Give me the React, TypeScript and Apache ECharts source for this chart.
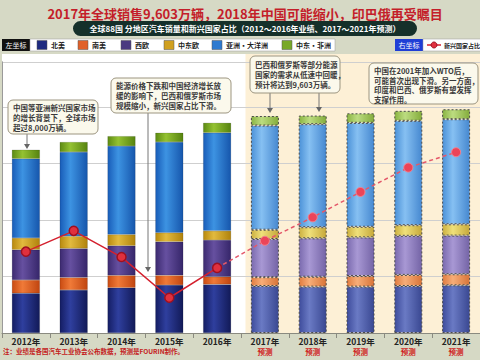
import React, { useEffect, useRef } from "react";
import * as echarts from "echarts";

const categories = ["2012年", "2013年", "2014年", "2015年", "2016年", "2017年", "2018年", "2019年", "2020年", "2021年"];
const forecastStart = 5;
const seriesNames = ["北美", "南美", "西欧", "中东欧", "亚洲・大洋洲", "中东・非洲"];
const northAmerica = [1760, 1900, 2000, 2120, 2150, 2080, 2050, 2050, 2080, 2110];
const southAmerica = [590, 560, 550, 430, 340, 390, 440, 470, 490, 490];
const westernEurope = [1330, 1280, 1310, 1490, 1620, 1690, 1700, 1710, 1730, 1710];
const centralEastEurope = [520, 540, 500, 400, 410, 410, 490, 470, 470, 500];
const asiaOceania = [3510, 3730, 3910, 4010, 4340, 4610, 4560, 4600, 4620, 4650];
const middleEastAfrica = [400, 440, 440, 410, 440, 420, 380, 420, 440, 440];
const emergingShare = [39.0, 41.3, 38.4, 33.9, 37.2, 40.2, 42.8, 45.6, 48.3, 50.0];
const leftTicks = { min: 0, max: 12000, interval: 2500 };
const rightTicks = { min: 30, max: 60 };

const actualColors = [
  ["#141d63", "#2f3f9e", "#121a58"],
  ["#c94b12", "#f07a38", "#c04510"],
  ["#3c2a70", "#6650a0", "#36266a"],
  ["#b8890f", "#e2ba3e", "#b0820c"],
  ["#185cb8", "#3d93e2", "#1656ac"],
  ["#5c8a12", "#94c232", "#56830f"],
];
const forecastColors = [
  ["#3e4c9c", "#6a7ac4", "#3a4892"],
  ["#e07c40", "#f7ad78", "#d87438"],
  ["#7a6aae", "#a898d4", "#7464a6"],
  ["#ccb040", "#efe07a", "#c6a83a"],
  ["#4c92d8", "#86c0f2", "#4688d0"],
  ["#8ab442", "#bcdc80", "#84ac3c"],
];
const legendColors = ["#1e2a80", "#e0602a", "#4a3a80", "#d0a020", "#2e7ad0", "#78a828"];

function grad(c: string[]) {
  return new echarts.graphic.LinearGradient(0, 0, 1, 0, [
    { offset: 0, color: c[0] },
    { offset: 0.38, color: c[1] },
    { offset: 1, color: c[2] },
  ]);
}

const values = [northAmerica, southAmerica, westernEurope, centralEastEurope, asiaOceania, middleEastAfrica];

function noteBox(x: number, y: number, w: number, h: number, text: string, fs: number, lh: number) {
  return [
    {
      type: "rect",
      shape: { x, y, width: w, height: h, r: 5 },
      style: { fill: "#fbf9ec", stroke: "#9c9580", lineWidth: 1 },
      z: 10,
    },
    {
      type: "text",
      x: x + 5,
      y: y + 3,
      style: {
        text,
        fontSize: fs,
        lineHeight: lh,
        fontWeight: "bold",
        fill: "#3a3a3a",
        fontFamily: "Noto Sans CJK SC",
      },
      z: 11,
    },
  ];
}

function arrow(x: number, y1: number, y2: number) {
  return [
    { type: "line", shape: { x1: x, y1, x2: x, y2: y2 - 4 }, style: { stroke: "#777", lineWidth: 1 }, z: 9 },
    {
      type: "polygon",
      shape: { points: [[x - 3, y2 - 5], [x + 3, y2 - 5], [x, y2]] },
      style: { fill: "#666" },
      z: 9,
    },
  ];
}

export default function App() {
  const ref = useRef<HTMLDivElement>(null);
  useEffect(() => {
    if (!ref.current) return;
    const chart = echarts.init(ref.current, null, { renderer: "svg" });
    const font = "Noto Sans CJK SC";

    const barSeries = seriesNames.map((name, si) => ({
      name,
      type: "bar",
      stack: "total",
      barWidth: 28,
      yAxisIndex: 0,
      data: values[si].map((v, i) =>
        i >= forecastStart
          ? {
              value: v,
              itemStyle: {
                color: grad(forecastColors[si]),
                borderColor: "#4a4a4a",
                borderWidth: 1,
                borderType: [2, 2],
              },
            }
          : { value: v, itemStyle: { color: grad(actualColors[si]), borderColor: "rgba(0,0,0,0.25)", borderWidth: 0.5 } }
      ),
      z: 3,
    }));

    const actualLine = emergingShare.map((v, i) => (i < forecastStart ? v : null));
    const forecastLine = emergingShare.map((v, i) =>
      i < forecastStart - 1 ? null : i === forecastStart - 1 ? { value: v, symbol: "none" } : v
    );

    const legendItems: any[] = [];
    const lx = [37, 78, 121, 164, 212, 282];
    seriesNames.forEach((n, i) => {
      legendItems.push({
        type: "rect",
        shape: { x: lx[i], y: 40.5, width: 10, height: 9 },
        style: { fill: legendColors[i], stroke: "#555", lineWidth: 0.5 },
      });
      legendItems.push({
        type: "text",
        x: lx[i] + 14,
        y: 45,
        style: { text: n, fontSize: 7, fontWeight: "bold", fill: "#222", textVerticalAlign: "middle", fontFamily: font },
      });
    });

    chart.setOption({
      animation: false,
      backgroundColor: "#d6d9c5",
      grid: { left: 2, top: 61.8, width: 487, bottom: 27, containLabel: false },
      xAxis: {
        type: "category",
        data: categories,
        axisLine: { lineStyle: { color: "#8a8a80", width: 1 } },
        axisTick: { show: true, length: 5, lineStyle: { color: "#8a8a80" } },
        axisLabel: {
          margin: 3,
          interval: 0,
          formatter: (v: string, i: number) => (i >= forecastStart ? `{y|${v}}\n{f|预测}` : `{y|${v}}`),
          rich: {
            y: { fontSize: 8.5, fontWeight: "bold", color: "#222", fontFamily: font, lineHeight: 10 },
            f: { fontSize: 7.5, fontWeight: "bold", color: "#d02020", fontFamily: font, lineHeight: 10 },
          },
        },
      },
      yAxis: [
        {
          type: "value",
          min: leftTicks.min,
          max: leftTicks.max,
          interval: leftTicks.interval,
          axisLabel: { show: false },
          axisLine: { show: true, lineStyle: { color: "#9a9a9a" } },
          axisTick: { show: false },
          splitLine: { lineStyle: { color: "#cfcfcf", width: 1 } },
        },
        {
          type: "value",
          min: rightTicks.min,
          max: rightTicks.max,
          axisLabel: { show: false },
          axisLine: { show: false },
          axisTick: { show: false },
          splitLine: { show: false },
        },
      ],
      series: [
        ...barSeries,
        {
          name: "新兴国家占比",
          type: "line",
          yAxisIndex: 1,
          data: actualLine,
          symbol: "circle",
          symbolSize: 9,
          lineStyle: { color: "#d4202e", width: 1.5 },
          itemStyle: { color: "#e0303e", borderColor: "#9e1020", borderWidth: 1.5 },
          z: 6,
        },
        {
          name: "新兴国家占比预测",
          type: "line",
          yAxisIndex: 1,
          data: forecastLine,
          symbol: "circle",
          symbolSize: 9,
          lineStyle: { color: "#e4586a", width: 1.5, type: [4, 3] },
          itemStyle: { color: "#ec4458", borderColor: "#f2808e", borderWidth: 1 },
          z: 6,
        },
      ],
      graphic: [
        { type: "rect", shape: { x: 2, y: 54, width: 244, height: 279 }, style: { fill: "#ffffff" }, z: -10 },
        { type: "rect", shape: { x: 245.5, y: 54, width: 240, height: 279 }, style: { fill: "#fdf0d6" }, z: -10 },
        {
          type: "text",
          x: 245,
          y: 13,
          style: {
            text: "2017年全球销售9,603万辆，2018年中国可能缩小，印巴俄再受瞩目",
            fontSize: 13,
            fontWeight: "bold",
            fill: "#c41e2a",
            textAlign: "center",
            textVerticalAlign: "middle",
            fontFamily: font,
          },
        },
        { type: "rect", shape: { x: 73, y: 21, width: 344, height: 15, r: 7.5 }, style: { fill: "#15302a" } },
        {
          type: "text",
          x: 245,
          y: 28.5,
          style: {
            text: "全球88国 分地区汽车销量和新兴国家占比（2012～2016年业绩、2017～2021年预测）",
            fontSize: 8,
            fontWeight: "bold",
            fill: "#ffffff",
            textAlign: "center",
            textVerticalAlign: "middle",
            fontFamily: font,
          },
        },
        { type: "rect", shape: { x: 2, y: 39, width: 28, height: 12 }, style: { fill: "#111" } },
        {
          type: "text",
          x: 16,
          y: 45,
          style: { text: "左坐标", fontSize: 7, fill: "#fff", textAlign: "center", textVerticalAlign: "middle", fontFamily: font },
        },
        { type: "rect", shape: { x: 30, y: 39, width: 305, height: 12 }, style: { fill: "#fff", stroke: "#999", lineWidth: 0.5 } },
        ...legendItems,
        { type: "rect", shape: { x: 395, y: 39, width: 28, height: 12 }, style: { fill: "#1f3ed6" } },
        {
          type: "text",
          x: 409,
          y: 45,
          style: { text: "右坐标", fontSize: 7, fill: "#fff", textAlign: "center", textVerticalAlign: "middle", fontFamily: font },
        },
        { type: "rect", shape: { x: 423, y: 39, width: 60, height: 12 }, style: { fill: "#fff", stroke: "#999", lineWidth: 0.5 } },
        { type: "line", shape: { x1: 427, y1: 45, x2: 441, y2: 45 }, style: { stroke: "#d4202e", lineWidth: 1.5 } },
        { type: "circle", shape: { cx: 434, cy: 45, r: 3 }, style: { fill: "#e0303e", stroke: "#9e1020", lineWidth: 1 } },
        {
          type: "text",
          x: 444,
          y: 45,
          style: { text: "新兴国家占比", fontSize: 6, fontWeight: "bold", fill: "#222", textVerticalAlign: "middle", fontFamily: font },
        },
        ...noteBox(8, 100, 90, 34, "中国等亚洲新兴国家市场\n的增长背景下，全球市场\n超过8,000万辆。", 7.5, 9.8),
        ...arrow(27, 134, 149),
        ...noteBox(111, 78, 120, 35, "能源价格下跌和中国经济增长放\n缓的影响下，巴西和俄罗斯市场\n规模缩小，新兴国家占比下滑。", 7.5, 9.7),
        ...arrow(148, 113, 272),
        ...noteBox(250, 56, 90, 37, "巴西和俄罗斯等部分能源\n国家的需求从低速中回暖，\n预计将达到9,603万辆。", 7.5, 10),
        ...arrow(270, 93, 113),
        ...arrow(319, 93, 112),
        ...noteBox(369, 63, 109, 41, "中国在2001年加入WTO后，\n可能首次出现下滑。另一方面，\n印度和巴西、俄罗斯有望发挥\n支撑作用。", 7.5, 9.5),
        {
          type: "text",
          x: 3,
          y: 351,
          style: {
            text: "注：业绩是各国汽车工业协会公布数据，预测是FOURIN制作。",
            fontSize: 6.5,
            fontWeight: "bold",
            fill: "#c42020",
            textVerticalAlign: "middle",
            fontFamily: font,
          },
        },
      ],
    });
    return () => chart.dispose();
  }, []);
  return <div ref={ref} style={{ width: 480, height: 360, position: "fixed", left: 0, top: 0 }} />;
}
